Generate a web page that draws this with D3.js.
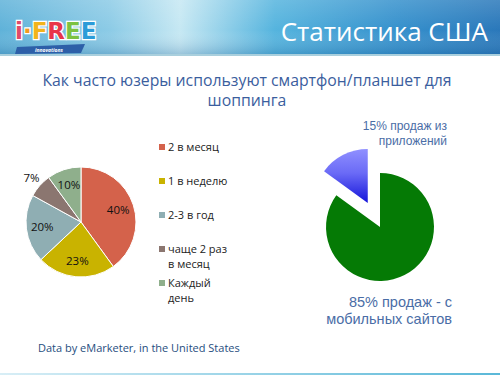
<!DOCTYPE html>
<html>
<head>
<meta charset="utf-8">
<script src="https://cdn.jsdelivr.net/npm/d3@7"></script>
<style>
  html, body { margin: 0; padding: 0; background: #fff; }
  svg { display: block; font-family: "Open Sans", "DejaVu Sans", sans-serif; }
</style>
</head>
<body>
<div id="chart"></div>
<script>
// Shopping frequency (left pie)
const freqLabels = ["2 в месяц", "1 в неделю", "2-3 в год", "чаще 2 раз в месяц", "Каждый день"];
const freqLegendLines = [["2 в месяц"], ["1 в неделю"], ["2-3 в год"], ["чаще 2 раз", "в месяц"], ["Каждый", "день"]];
const freqValues = [40, 23, 20, 7, 10];
const freqColors = ["#D4624B", "#C9B300", "#8FAEB3", "#8B7670", "#8FAF8C"];

// Sales channel (right pie)
const salesLabels = ["мобильные сайты", "приложения"];
const salesValues = [85, 15];

(function() {
  'use strict';

  const width = 500, height = 375;

  const svg = d3.select("#chart")
    .append("svg")
    .attr("width", width)
    .attr("height", height);

  const defs = svg.append("defs");

  // header gradient
  const hg = defs.append("linearGradient").attr("id", "hdr")
    .attr("x1", 0).attr("x2", 1).attr("y1", 0).attr("y2", 0);
  hg.append("stop").attr("offset", "0%").attr("stop-color", "#5FB2D9");
  hg.append("stop").attr("offset", "22%").attr("stop-color", "#8CCBE6");
  hg.append("stop").attr("offset", "36%").attr("stop-color", "#C6E8F3");
  hg.append("stop").attr("offset", "55%").attr("stop-color", "#55B4DE");
  hg.append("stop").attr("offset", "80%").attr("stop-color", "#3590CC");
  hg.append("stop").attr("offset", "100%").attr("stop-color", "#2A78BA");

  const hv = defs.append("linearGradient").attr("id", "hdrShade")
    .attr("x1", 0).attr("x2", 0).attr("y1", 0).attr("y2", 1);
  hv.append("stop").attr("offset", "0%").attr("stop-color", "#ffffff").attr("stop-opacity", 0.15);
  hv.append("stop").attr("offset", "55%").attr("stop-color", "#ffffff").attr("stop-opacity", 0);
  hv.append("stop").attr("offset", "100%").attr("stop-color", "#0B4F8A").attr("stop-opacity", 0.25);

  const bg = defs.append("linearGradient").attr("id", "blueSlice")
    .attr("x1", 0).attr("x2", 0).attr("y1", 0).attr("y2", 1);
  bg.append("stop").attr("offset", "0%").attr("stop-color", "#9090FF");
  bg.append("stop").attr("offset", "45%").attr("stop-color", "#6A6AF6");
  bg.append("stop").attr("offset", "100%").attr("stop-color", "#1515DA");

  const fg = defs.append("linearGradient").attr("id", "footLine")
    .attr("x1", 0).attr("x2", 1).attr("y1", 0).attr("y2", 0);
  fg.append("stop").attr("offset", "0%").attr("stop-color", "#D8EEF6");
  fg.append("stop").attr("offset", "100%").attr("stop-color", "#5AB8D8");

  // Header band
  svg.append("rect").attr("x", 0).attr("y", 0).attr("width", width).attr("height", 55)
    .attr("fill", "url(#hdr)");
  svg.append("rect").attr("x", 0).attr("y", 0).attr("width", width).attr("height", 55)
    .attr("fill", "url(#hdrShade)");
  svg.append("rect").attr("x", 0).attr("y", 54).attr("width", width).attr("height", 2)
    .attr("fill", "#A9CFDD");

  svg.append("text")
    .attr("x", 488).attr("y", 41)
    .attr("text-anchor", "end")
    .attr("fill", "#ffffff")
    .style("font-size", "26px")
    .text("Статистика США");

  // Logo
  const logo = svg.append("g").attr("transform", "translate(15,0)");
  logo.append("path")
    .attr("d", "M2,47 L70,44 L66,53 L0,54 Z")
    .attr("fill", "#2D5FA8");
  logo.append("text")
    .attr("x", 20).attr("y", 52)
    .attr("fill", "#ffffff")
    .style("font-size", "5px")
    .style("font-weight", "bold")
    .style("font-style", "italic")
    .text("innovations");
  const lt = logo.append("text")
    .attr("x", 0).attr("y", 39)
    .style("font-size", "23px")
    .style("font-weight", "bold")
    .style("font-family", "'DejaVu Sans', sans-serif")
    .attr("stroke", "#ffffff")
    .attr("stroke-width", 2.5)
    .attr("paint-order", "stroke");
  [["i", "#E04A6A"], ["·", "#F39A1E"], ["F", "#F2B41A"], ["R", "#E8354A"], ["E", "#7CC242"], ["E", "#2C9BD8"]]
    .forEach(([ch, c]) => lt.append("tspan").attr("fill", c).text(ch));

  // Subtitle
  const sub = svg.append("text")
    .attr("text-anchor", "middle")
    .attr("fill", "#3B5E9E")
    .style("font-size", "15.8px");
  sub.append("tspan").attr("x", 247).attr("y", 86)
    .text("Как часто юзеры используют смартфон/планшет для");
  sub.append("tspan").attr("x", 247).attr("y", 106)
    .text("шоппинга");

  // Left pie
  const r1 = 55;
  const pie = d3.pie().sort(null).value(d => d);
  const arc1 = d3.arc().innerRadius(0).outerRadius(r1);
  const g1 = svg.append("g").attr("transform", "translate(81,222)");
  const arcs1 = pie(freqValues);

  g1.selectAll("path")
    .data(arcs1)
    .enter()
    .append("path")
    .attr("d", arc1)
    .attr("fill", (d, i) => freqColors[i])
    .attr("stroke", "#ffffff")
    .attr("stroke-width", 1);

  const inLabel = d3.arc().innerRadius(r1 * 0.71).outerRadius(r1 * 0.71);
  const outLabel = d3.arc().innerRadius(r1 * 1.2).outerRadius(r1 * 1.2);
  g1.selectAll("text")
    .data(arcs1)
    .enter()
    .append("text")
    .attr("transform", d => {
      const small = (d.endAngle - d.startAngle) < 0.5;
      const p = (small && d.data < 8) ? outLabel.centroid(d) : inLabel.centroid(d);
      return `translate(${p[0]},${p[1]})`;
    })
    .attr("text-anchor", "middle")
    .attr("dy", "0.35em")
    .attr("fill", "#111")
    .style("font-size", "11.5px")
    .text(d => d.data + "%");

  // Legend
  const legend = svg.append("g").attr("transform", "translate(159,0)");
  const legendY = d3.scalePoint().domain(freqLabels).range([147, 283]);
  freqLabels.forEach((lab, i) => {
    const y = legendY(lab);
    legend.append("rect")
      .attr("x", 0).attr("y", y - 3)
      .attr("width", 6).attr("height", 6)
      .attr("fill", freqColors[i]);
    freqLegendLines[i].forEach((line, k) => {
      legend.append("text")
        .attr("x", 9).attr("y", y + 4 + k * 14.5)
        .attr("fill", "#222")
        .style("font-size", "11px")
        .text(line);
    });
  });

  // Right pie (exploded)
  const r2 = 54;
  const arc2 = d3.arc().innerRadius(0).outerRadius(r2);
  const g2 = svg.append("g").attr("transform", "translate(380,227)");
  const arcs2 = pie(salesValues);
  const explode = 27;
  g2.selectAll("path")
    .data(arcs2)
    .enter()
    .append("path")
    .attr("d", arc2)
    .attr("fill", (d, i) => i === 0 ? "#057A05" : "url(#blueSlice)")
    .attr("transform", (d, i) => {
      if (i === 0) return null;
      const a = (d.startAngle + d.endAngle) / 2;
      return `translate(${Math.sin(a) * explode},${-Math.cos(a) * explode})`;
    });

  const sideFont = "'Liberation Sans', Arial, sans-serif";
  [[salesValues[1] + "% продаж из", 130], ["приложений", 145]].forEach(([s, y]) => {
    svg.append("text")
      .attr("x", 447).attr("y", y)
      .attr("text-anchor", "end")
      .attr("fill", "#4A6DA6")
      .style("font-family", sideFont)
      .style("font-size", "12px")
      .text(s);
  });
  [[salesValues[0] + "% продаж - с", 307], ["мобильных сайтов", 324]].forEach(([s, y]) => {
    svg.append("text")
      .attr("x", 452).attr("y", y)
      .attr("text-anchor", "end")
      .attr("fill", "#4A6DA6")
      .style("font-family", sideFont)
      .style("font-size", "14.5px")
      .text(s);
  });

  // Source
  svg.append("text")
    .attr("x", 38).attr("y", 352)
    .attr("fill", "#1F4E80")
    .style("font-size", "11px")
    .text("Data by eMarketer, in the United States");

  // Bottom line
  svg.append("rect").attr("x", 0).attr("y", 373).attr("width", width).attr("height", 2)
    .attr("fill", "url(#footLine)");
})();
</script>
</body>
</html>
